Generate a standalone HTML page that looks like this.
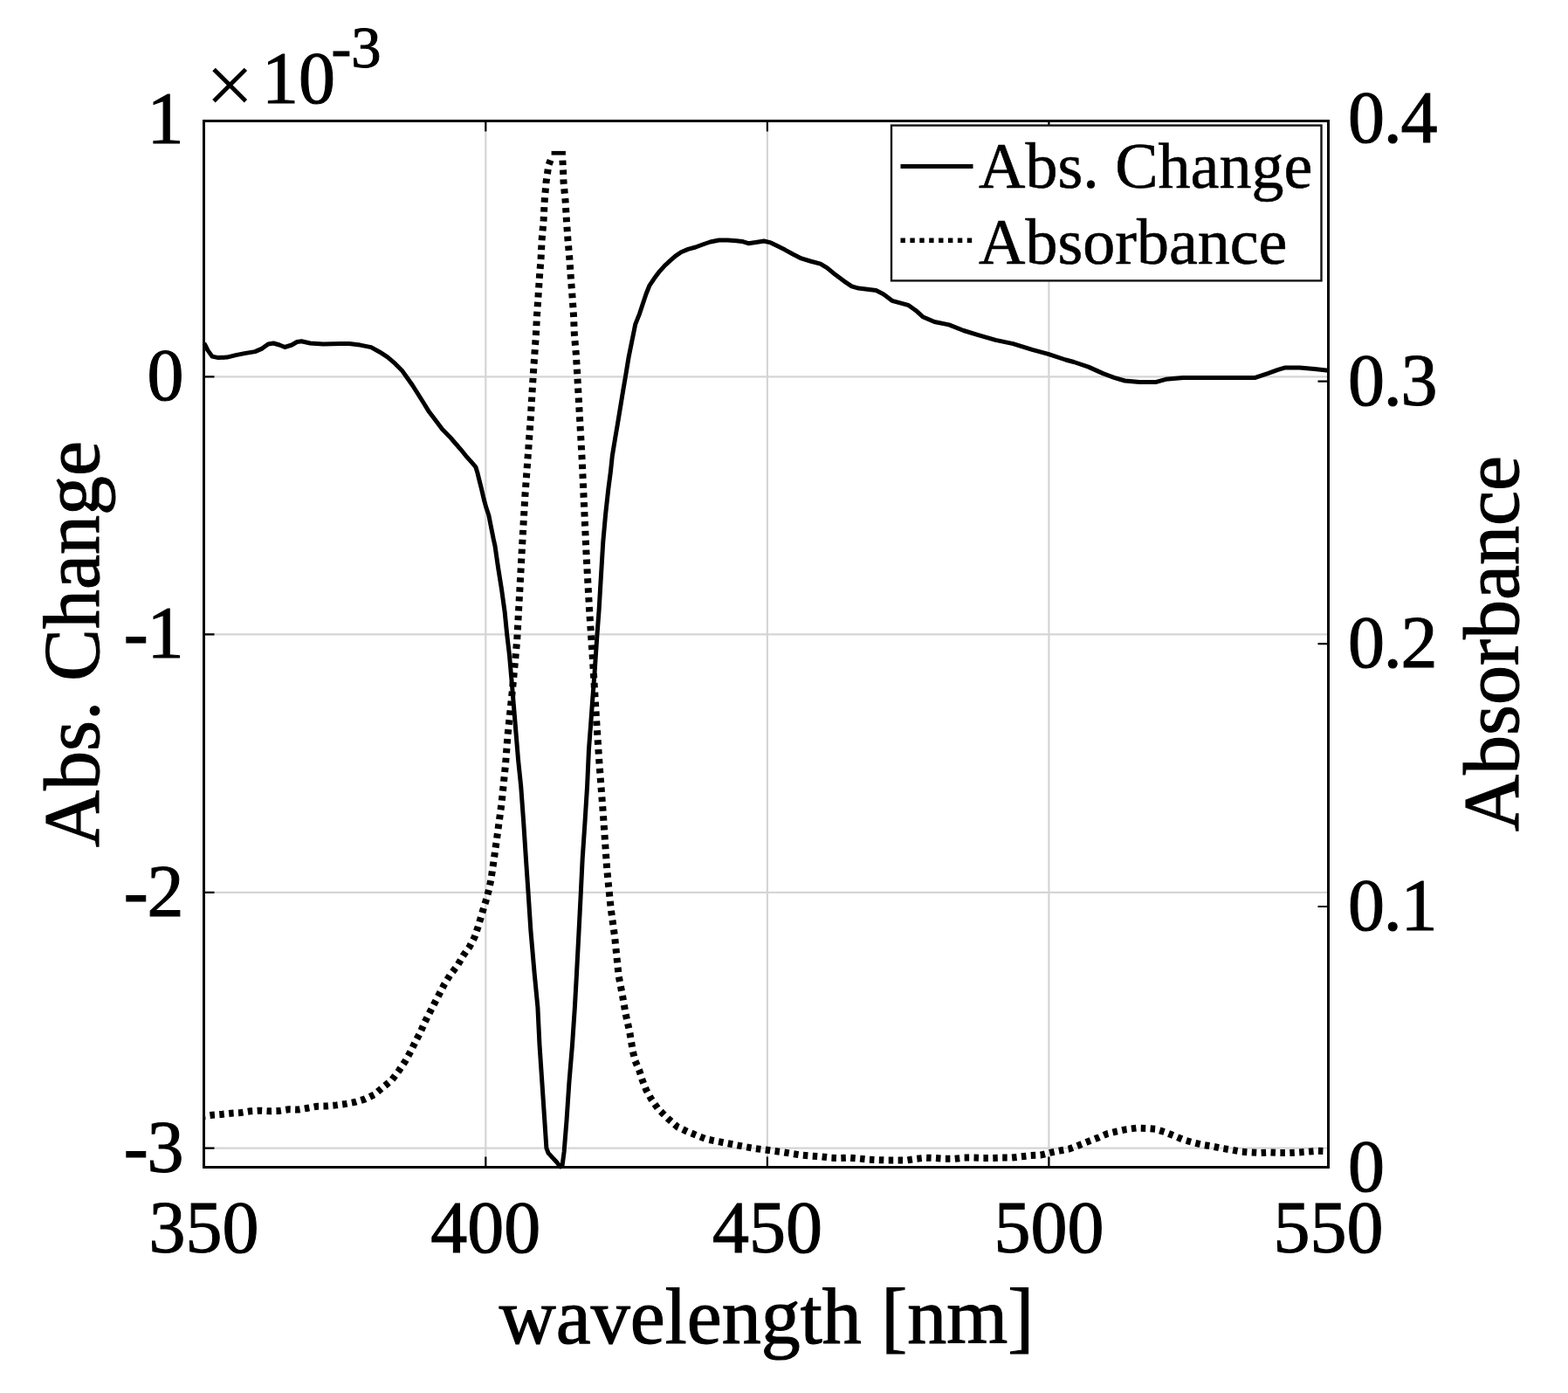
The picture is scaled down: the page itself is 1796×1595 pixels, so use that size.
<!DOCTYPE html>
<html><head><meta charset="utf-8"><title>Abs. Change and Absorbance vs wavelength</title>
<style>html,body{margin:0;padding:0;background:#fff;overflow:hidden}svg{display:block}</style>
</head><body>
<svg width="1796" height="1595" viewBox="0 0 1796 1595">
<rect width="1796" height="1595" fill="#fff"/>
<path d="M556.3,138.5V1336.5M878.9,138.5V1336.5M1201.4,138.5V1336.5M233.5,431.4H1521.5M233.5,726.4H1521.5M233.5,1021.9H1521.5M233.5,1314.7H1521.5" stroke="#d5d5d5" stroke-width="2.2" fill="none"/>
<polyline points="630.6,183.3 628.3,189.5 625.6,208.3 623.7,230.2 622.6,252 620.7,273.8 619.6,295.6 617.9,317.5 616.5,339.3 615,361.1 613.9,383.3 612.4,405.1 610.9,426.6 609.6,448.2 607.7,480 605.2,515.1 601.4,567.7 598.2,622.9 595.2,678 592.2,733.1 587.1,788.3 581.4,843.4 579.1,874.5 574.6,919.1 570.2,951.9 565.7,984.6 562.4,1007.1 560.1,1018.2 557.3,1029.1 553.9,1039.9 550.7,1050.8 547.4,1061.7 543.6,1073 538,1083.7 530.4,1094.4 523.8,1105.7 515.4,1116.6 508.8,1127.3 503.2,1138.2 497.5,1149.1 491.9,1159.8 486.2,1171.1 481.5,1182 475.9,1192.7 470.3,1204 464.6,1214.4 457.1,1225.6 448.6,1236.9 439.2,1244.5 428.5,1253.5 418.2,1258.4 407.6,1261.7 396.3,1263.9 385.3,1265.4 374.3,1266.5 363.4,1266.7 352.5,1268.7 341.4,1270.6 330.6,1270.3 319.6,1272 308.7,1272.3 297.7,1271.7 286.8,1272.3 275.9,1274 264.9,1274.7 253.9,1275.9 243.1,1276.7 233.8,1278" fill="none" stroke="#000" stroke-width="8" stroke-dasharray="5.5 5.4"/>
<polyline points="644.4,183.6 645.1,197 645.5,208.3 647.6,230.2 648.9,252 650.4,273.8 652.3,295.6 653.8,317.5 655.5,339.3 657,361.1 657.9,383.3 659.8,405.1 661.1,426.6 662.3,448.2 664.1,480 666.6,525.1 669.1,580.3 671.6,635.4 675.2,700.3 679,755.7 682.9,820.9 686.6,876 690.7,929.6 695.2,995.1 699.6,1039.7 704.1,1072.5 708.6,1117.2 713,1140 716.5,1160.3 721.3,1182 724.9,1204 727.5,1214.6 732.4,1226.1 735.7,1236.7 740.1,1247.8 745.9,1258.4 753.8,1269.6 765.4,1281.1 776.3,1290.5 787.1,1295.6 798,1300 808.8,1304.3 819.7,1306.5 830.5,1308.6 841.8,1310.8 853,1313 863.8,1314.9 874.7,1316.3 885.6,1317.8 896.4,1319.2 907.3,1321 918.1,1322.7 929,1323.6 940.4,1324.3 951.4,1325.6 961.7,1326.1 973.1,1325.6 984,1326.5 995.1,1327.6 1006,1328.1 1016.9,1328.5 1027.7,1328.5 1038.6,1328.5 1049.4,1326.8 1060.3,1325.6 1071.6,1326 1082.3,1326.8 1093.4,1326.8 1104.2,1325.6 1115.1,1325.6 1126.3,1326 1137.1,1326 1148,1325.6 1158.8,1325.6 1169.7,1324.3 1180.5,1323.1 1191.9,1322.6 1202.8,1319.8 1213.6,1317.6 1224.8,1315.5 1235.5,1311.4 1246.8,1306.9 1257.6,1302.8 1268.7,1298 1279.5,1295.4 1290.4,1293.1 1301.5,1291.6 1312.3,1291.9 1323.2,1292.8 1334.3,1296.2 1345.1,1300.6 1356,1305.2 1367,1308.3 1377.9,1310.9 1388.8,1312.6 1399.8,1314.9 1410.7,1316.6 1421.6,1318.7 1432.6,1319.5 1443.5,1320.1 1454.4,1319.5 1465.4,1320.1 1476.3,1320.1 1487.2,1319.5 1498.2,1318.7 1508.6,1317.8 1521.5,1318.3" fill="none" stroke="#000" stroke-width="8" stroke-dasharray="5.5 5.4"/>
<rect x="631.6" y="172.9" width="16.3" height="4.7" fill="#000"/>
<polyline points="233.8,393 235,395 238,401.1 243,408.1 250,409.6 260.1,409.1 270.1,406.6 280.1,404.6 292.1,402.6 300.2,399.1 307.2,394 313.2,393 320.2,395 326.2,397.5 334.2,395 340.2,391.5 345.3,390.8 355.3,393 370.3,394 390.4,393.5 400,393.6 412.5,395.1 425.1,397.6 435.1,403.2 443.9,408.9 452.7,416.4 460.2,423.9 466.5,432.7 472.7,441.5 479,451.5 485.3,461.5 491.5,471.6 499.1,481.6 506.6,491.6 515.4,500.4 521.5,507.5 527.5,514.3 533.5,521.8 539.6,528.6 544.8,534.6 547.1,542.1 549.3,551.2 551.6,560.2 554.2,571.5 556.9,581.3 559.9,590.3 562.1,601.6 565.1,616.6 567,625.1 570.6,650.2 574.6,675.2 578.1,700.3 580.6,725.4 583.5,750.3 586.1,780.1 588.6,810.2 591.1,840.3 593.6,870.4 596.7,900.3 599.7,941.4 602.4,982.8 605.2,1024.1 607.9,1065.5 612.2,1115 615.9,1153.2 618,1196.5 620.9,1239.7 623.8,1283 625.9,1314.7 628.1,1320.4 637.5,1330.5 641.8,1336 644,1334.9 646.1,1319 649,1283 651.9,1239.7 655.5,1196.5 658.4,1153.2 660.5,1115 663.1,1065.5 665.2,1024.1 667.2,982.8 670,941.4 672.6,900 674.5,857.5 676.7,828.7 678.8,799.8 681,771 683.9,727.7 686.1,698.8 687.8,670 689,650.2 690.8,620.2 693.5,590 696.8,560 699.4,540.2 701.3,522 704.4,503.2 707.6,484.3 710.7,465.5 713.8,446.7 717,427.9 720.1,409 723.9,390.2 727.7,371.4 732.7,358.8 736,348.8 740,336.8 744,326.8 749.4,318.8 755.4,310.8 761.4,304.1 767.4,298.7 773.4,293.4 780.1,288.7 788.1,285.4 796.8,283 804.8,280 813.5,277 823.5,275 833.5,275 843.6,275.7 850,276.4 857.1,278.7 865.7,277.5 875.1,276 882.9,277.9 890.7,281.8 899.2,286.1 908.6,291.2 917.9,295.9 928.1,299 939.8,302.1 947.6,306.8 956.9,314.6 966.3,321.6 975.6,327.8 983.4,330.1 1003.5,332.6 1011.8,336.8 1021.8,344.3 1040.2,349.3 1048.6,355.2 1056.9,362.7 1070.3,368.5 1087,371.9 1103.7,378.5 1120.4,383.6 1140.4,389.4 1160.5,393.6 1182.2,400.3 1200.6,405.3 1220.6,412 1230,414.5 1246.7,420.1 1263.4,427.6 1276.8,432.6 1288.5,436 1305.2,437.6 1323.5,437.6 1335.2,434.3 1355.3,432.6 1397,432.6 1437.1,432.6 1452.1,427.6 1463.8,423.4 1472.2,420.9 1488.9,420.9 1505.6,422.6 1521.5,424.3" fill="none" stroke="#000" stroke-width="5" stroke-linejoin="round"/>
<path d="M556.3,1336.5v-12M556.3,138.5v12M878.9,1336.5v-12M878.9,138.5v12M1201.4,1336.5v-12M1201.4,138.5v12M233.5,431.4h12M233.5,726.4h12M233.5,1021.9h12M233.5,1314.7h12M1521.5,436.6h-12M1521.5,737.2h-12M1521.5,1038h-12" stroke="#000" stroke-width="2.2" fill="none"/>
<rect x="233.5" y="138.5" width="1288.0" height="1198.0" fill="none" stroke="#000" stroke-width="3"/>
<rect x="1021" y="143.6" width="492.5" height="177.8" fill="#fff" stroke="#151515" stroke-width="2.4"/>
<path d="M1031.5,190.5H1114.5" stroke="#000" stroke-width="5"/>
<path d="M1031.5,275.3H1114.5" stroke="#000" stroke-width="5.6" stroke-dasharray="5.4 5.5" stroke-dashoffset="0"/>
<g font-family="Liberation Serif, Times New Roman, serif" fill="#000" stroke="#000" stroke-width="1.1">
<text x="1121" y="215.2" font-size="74" stroke-width="0.6">Abs. Change</text>
<text x="1121" y="302.4" font-size="74" stroke-width="0.6">Absorbance</text>
<text x="209.3" y="164.1" font-size="84" text-anchor="end" letter-spacing="-1.2">1</text>
<text x="209.3" y="458.4" font-size="84" text-anchor="end" letter-spacing="-1.2">0</text>
<text x="209.3" y="753.4" font-size="84" text-anchor="end" letter-spacing="-1.2">-1</text>
<text x="209.3" y="1048.9" font-size="84" text-anchor="end" letter-spacing="-1.2">-2</text>
<text x="209.3" y="1341.7" font-size="84" text-anchor="end" letter-spacing="-1.2">-3</text>
<text x="1544" y="162.6" font-size="84" letter-spacing="-1.2">0.4</text>
<text x="1544" y="463.6" font-size="84" letter-spacing="-1.2">0.3</text>
<text x="1544" y="764.2" font-size="84" letter-spacing="-1.2">0.2</text>
<text x="1544" y="1065.0" font-size="84" letter-spacing="-1.2">0.1</text>
<text x="1544" y="1364.0" font-size="84" letter-spacing="-1.2">0</text>
<text x="233.5" y="1434" font-size="84" text-anchor="middle">350</text>
<text x="556.3" y="1434" font-size="84" text-anchor="middle">400</text>
<text x="878.9" y="1434" font-size="84" text-anchor="middle">450</text>
<text x="1201.4" y="1434" font-size="84" text-anchor="middle">500</text>
<text x="1521.5" y="1434" font-size="84" text-anchor="middle">550</text>
<text x="235.5" y="130" font-size="98" stroke-width="0">×</text>
<text x="300" y="118" font-size="84">10</text>
<text x="379.5" y="77" font-size="68.5">-3</text>
<text x="878" y="1537.5" font-size="90" text-anchor="middle">wavelength [nm]</text>
<text transform="translate(112.5,737.5) rotate(-90)" font-size="90" text-anchor="middle">Abs. Change</text>
<text transform="translate(1739.3,737) rotate(-90)" font-size="90" text-anchor="middle">Absorbance</text>
</g></svg>
</body></html>
